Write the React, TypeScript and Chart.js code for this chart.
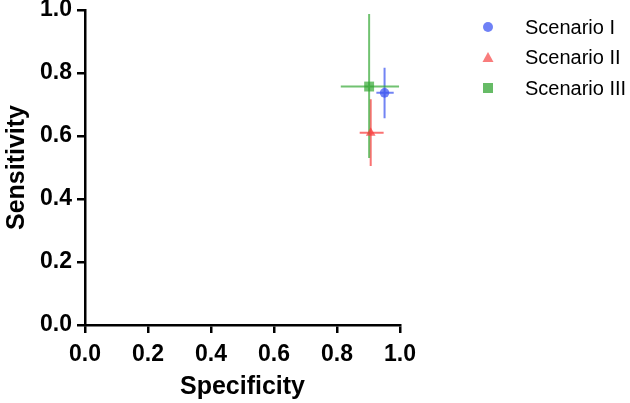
import React, { useEffect, useRef } from "react";
import { Chart, registerables } from "chart.js";

Chart.register(...registerables);

const scenarios = ["Scenario I", "Scenario II", "Scenario III"];
const specificity = [0.951, 0.907, 0.902];
const sensitivity = [0.737, 0.61, 0.757];
const specLow = [0.925, 0.872, 0.812];
const specHigh = [0.98, 0.948, 0.997];
const sensLow = [0.656, 0.505, 0.53];
const sensHigh = [0.817, 0.717, 0.987];
const tickValues = [0, 0.2, 0.4, 0.6, 0.8, 1.0];

const pointColors = ["rgba(60,85,240,0.72)", "rgba(248,60,60,0.72)", "rgba(45,165,45,0.68)"];
const legendColors = ["rgba(95,115,245,0.9)", "rgba(248,110,110,0.9)", "rgba(85,180,85,0.9)"];
const pointStyles = ["circle", "triangle", "rect"];
const pointRadii = [4.8, 5.6, 7];

const FONT = "'Liberation Sans', Arial, Helvetica, sans-serif";

const errorBarPlugin = {
  id: "errorBars",
  beforeDatasetsDraw(chart: any) {
    const ctx = chart.ctx;
    const xs = chart.scales.x;
    const ys = chart.scales.y;
    chart.data.datasets.forEach((ds: any) => {
      ctx.save();
      ctx.strokeStyle = ds.errorColor;
      ctx.lineWidth = 2;
      ds.data.forEach((d: any) => {
        const cx = xs.getPixelForValue(d.x);
        const cy = ys.getPixelForValue(d.y);
        ctx.beginPath();
        ctx.moveTo(xs.getPixelForValue(d.xMin), cy);
        ctx.lineTo(xs.getPixelForValue(d.xMax), cy);
        ctx.moveTo(cx, ys.getPixelForValue(d.yMin));
        ctx.lineTo(cx, ys.getPixelForValue(d.yMax));
        ctx.stroke();
      });
      ctx.restore();
    });
  },
};

const sideLegendPlugin = {
  id: "sideLegend",
  afterDraw(chart: any) {
    const ctx = chart.ctx;
    const markerX = chart.chartArea.right + 88;
    const textX = chart.chartArea.right + 125;
    const y0 = chart.chartArea.top + 17;
    const step = 30.5;
    chart.data.datasets.forEach((ds: any, i: number) => {
      const y = y0 + i * step;
      ctx.save();
      ctx.fillStyle = ds.legendColor;
      const style = ds.pointStyle;
      ctx.beginPath();
      if (style === "circle") {
        ctx.arc(markerX, y, 5, 0, Math.PI * 2);
      } else if (style === "triangle") {
        ctx.moveTo(markerX, y - 5.5);
        ctx.lineTo(markerX + 5.5, y + 4.5);
        ctx.lineTo(markerX - 5.5, y + 4.5);
        ctx.closePath();
      } else {
        ctx.rect(markerX - 5, y - 5, 10, 10);
      }
      ctx.fill();
      ctx.fillStyle = "#000";
      ctx.font = `20px ${FONT}`;
      ctx.textBaseline = "middle";
      ctx.textAlign = "left";
      ctx.fillText(ds.label, textX, y + 1);
      ctx.restore();
    });
  },
};

export default function App() {
  const ref = useRef<HTMLCanvasElement>(null);
  useEffect(() => {
    document.body.style.margin = "0";
    const datasets = scenarios.map((name, i) => ({
      label: name,
      data: [
        {
          x: specificity[i],
          y: sensitivity[i],
          xMin: specLow[i],
          xMax: specHigh[i],
          yMin: sensLow[i],
          yMax: sensHigh[i],
        },
      ],
      pointStyle: pointStyles[i],
      pointRadius: pointRadii[i],
      pointBackgroundColor: pointColors[i],
      pointBorderWidth: 0,
      backgroundColor: pointColors[i],
      borderColor: pointColors[i],
      errorColor: pointColors[i],
      legendColor: legendColors[i],
    }));
    const tickFont = { family: FONT, size: 23, weight: "bold" as const };
    const titleFont = { family: FONT, size: 25, weight: "bold" as const };
    const chart = new Chart(ref.current!, {
      type: "scatter",
      data: { datasets: datasets as any },
      plugins: [errorBarPlugin, sideLegendPlugin],
      options: {
        animation: false,
        responsive: false,
        devicePixelRatio: 1,
        layout: { padding: { top: 10, right: 230, left: 0, bottom: 0 } },
        plugins: { legend: { display: false }, tooltip: { enabled: false } },
        scales: {
          x: {
            type: "linear",
            min: 0,
            max: 1,
            afterBuildTicks: (s: any) => {
              s.ticks = tickValues.map((v) => ({ value: v }));
            },
            afterFit: (s: any) => {
              s.height = 78;
              s.paddingLeft = 0;
              s.paddingRight = 0;
            },
            ticks: {
              color: "#000",
              font: tickFont,
              padding: 8,
              maxRotation: 0,
              callback: (v: any) => Number(v).toFixed(1),
            },
            grid: { drawOnChartArea: false, drawTicks: true, tickLength: 8, color: "#000", lineWidth: 2.5 },
            border: { color: "#000", width: 2.5 },
            title: { display: true, text: "Specificity", color: "#000", font: titleFont, padding: { top: 0, bottom: 1 } },
          },
          y: {
            type: "linear",
            min: 0,
            max: 1,
            afterBuildTicks: (s: any) => {
              s.ticks = tickValues.map((v) => ({ value: v }));
            },
            afterFit: (s: any) => {
              s.width = 85;
              s.paddingTop = 0;
              s.paddingBottom = 0;
            },
            ticks: {
              color: "#000",
              font: tickFont,
              padding: 5,
              callback: (v: any) => Number(v).toFixed(1),
            },
            grid: { drawOnChartArea: false, drawTicks: true, tickLength: 8, color: "#000", lineWidth: 2.5 },
            border: { color: "#000", width: 2.5 },
            title: { display: true, text: "Sensitivity", color: "#000", font: titleFont, padding: { top: 2, bottom: 0 } },
          },
        },
      } as any,
    });
    return () => chart.destroy();
  }, []);
  return (
    <div style={{ width: 630, height: 403, background: "#fff" }}>
      <canvas ref={ref} width={630} height={403} style={{ display: "block", width: 630, height: 403 }} />
    </div>
  );
}
